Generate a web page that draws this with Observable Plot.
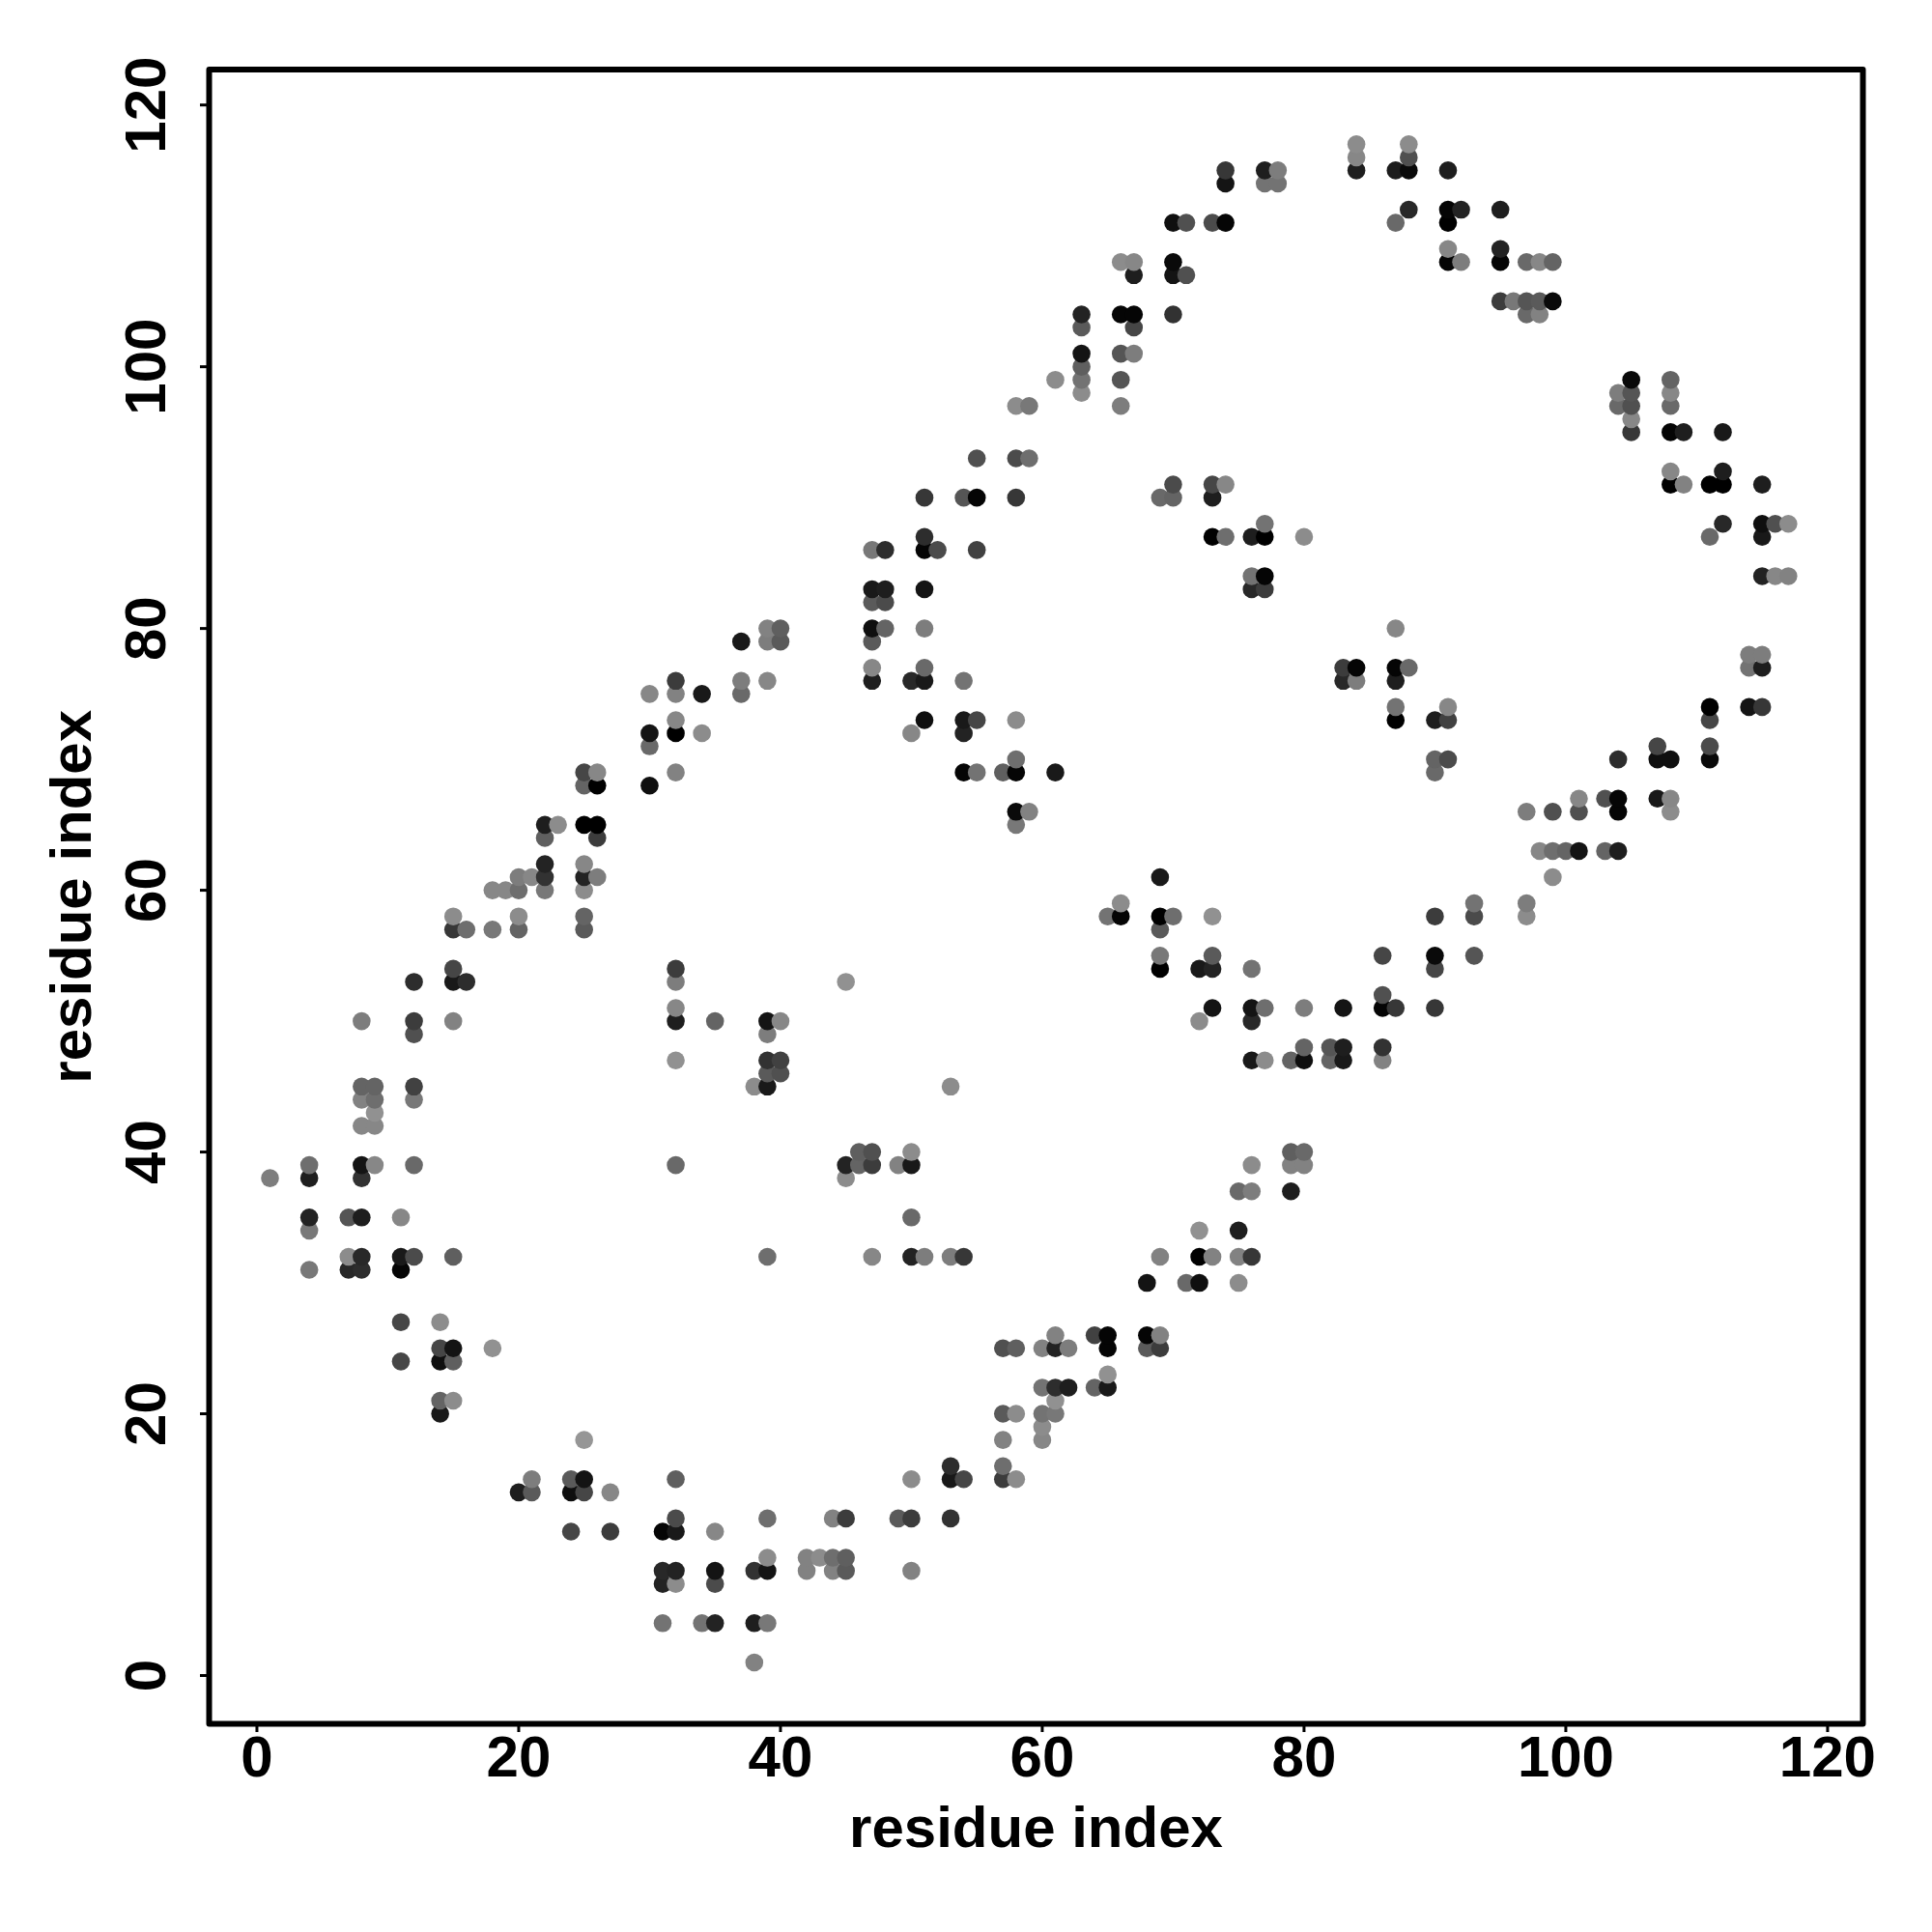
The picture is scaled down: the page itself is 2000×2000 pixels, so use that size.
<!DOCTYPE html>
<html>
<head>
<meta charset="utf-8">
<style>html,body{margin:0;padding:0;background:#fff}</style>
<script src="https://cdn.jsdelivr.net/npm/d3@7"></script>
<script src="https://cdn.jsdelivr.net/npm/@observablehq/plot@0.6"></script>
</head>
<body>
<div id="chart"></div>
<script>
const axisTicks = [0, 20, 40, 60, 80, 100, 120];
const axisTitle = "residue index";

const contactY = [
117,117,
116,116,
115,115,115,115,115,115,115,
114,114,114,
112,112,112,112,
111,111,111,111,111,111,
109,109,
108,108,108,108,108,108,108,108,108,
107,107,107,
105,105,105,105,105,
104,104,104,104,104,104,
103,103,
101,101,101,
100,
99,99,99,99,99,
98,98,98,98,
97,97,97,97,97,97,
96,
95,95,95,95,
93,93,93,
92,92,
91,91,91,91,91,91,91,91,
90,90,90,90,90,90,90,
88,88,88,88,88,
87,87,87,87,87,87,87,87,
86,86,86,86,86,
84,84,84,84,84,
83,83,83,83,83,
82,82,
80,80,80,80,80,80,
79,79,79,79,
78,78,
77,77,77,77,77,77,77,77,
76,76,76,76,76,76,76,76,76,76,
75,75,75,75,
74,74,74,74,74,
73,73,73,73,73,73,73,73,73,
72,72,72,72,72,
71,71,71,
70,70,70,70,70,70,70,
69,69,69,69,69,69,69,69,69,
68,68,68,
67,67,67,67,67,
66,66,66,66,66,66,66,
65,65,65,65,65,
64,64,
63,63,63,63,63,63,
62,62,
61,61,61,61,61,61,61,
60,60,60,60,60,
59,59,59,
58,58,58,58,58,58,58,58,58,58,58,
57,57,57,57,57,57,
55,55,55,55,55,
54,54,54,54,54,54,54,
53,53,53,53,53,
52,
51,51,51,51,51,51,51,51,51,
50,50,50,50,50,50,50,50,50,
49,49,
48,48,48,48,
47,47,47,47,47,47,47,47,47,47,
46,46,
45,45,45,45,45,45,
44,44,44,
43,
42,42,
40,40,40,40,40,
39,39,39,39,39,39,39,39,39,39,39,39,39,
38,38,38,38,
37,37,37,
35,35,35,35,35,
34,34,34,
32,32,32,32,32,32,32,32,32,32,32,32,32,32,32,32,
31,31,31,31,
30,30,30,30,
27,27,
26,26,26,26,26,
25,25,25,25,25,25,25,25,25,25,25,
24,24,24,
23,
22,22,22,22,22,
21,21,21,
20,20,20,20,20,
19,
18,18,18,
16,16,
15,15,15,15,15,15,15,15,15,
14,14,14,14,14,
12,12,12,12,12,12,12,
11,11,11,11,11,
9,9,9,9,9,
8,8,8,8,8,8,8,8,8,
7,7,7,
4,4,4,4,4,
1
];

const contactX = [
84,88,
84,88,
74,77,78,84,87,88,91,
74,77,78,
88,91,92,95,
70,71,73,74,87,91,
91,95,
66,67,70,91,92,95,97,98,99,
67,70,71,
95,96,97,98,99,
63,66,67,70,97,98,
63,67,
63,66,67,
63,
61,63,66,105,108,
63,104,105,108,
58,59,66,104,105,108,
105,
105,108,109,112,
55,58,59,
108,112,
70,73,74,108,109,111,112,115,
51,54,55,58,69,70,73,
77,112,115,116,117,
51,73,74,76,77,80,111,115,
47,48,51,52,55,
76,77,115,116,117,
47,48,51,76,77,
47,48,
39,40,47,48,51,87,
37,39,40,47,
114,115,
47,51,83,84,87,88,114,115,
32,37,39,47,50,51,54,83,84,87,
30,32,34,37,
87,91,111,114,115,
32,51,54,55,58,87,90,91,111,
30,32,34,50,54,
30,107,111,
58,90,91,104,107,108,111,
25,26,32,54,55,57,58,61,90,
25,26,30,
101,103,104,107,108,
58,59,97,99,101,104,108,
22,23,25,26,58,
22,26,
98,99,100,101,103,104,
22,25,
20,21,22,25,26,69,99,
18,19,20,22,25,
66,93,97,
15,20,25,65,66,69,70,73,90,93,97,
15,16,18,20,25,69,
69,73,86,90,93,
15,32,69,72,73,76,90,
12,15,16,32,45,
86,
32,73,76,77,80,83,86,87,90,
8,12,15,32,35,39,40,72,76,
12,39,
80,82,83,86,
32,39,40,76,77,79,80,82,83,86,
39,40,
8,9,12,38,39,53,
8,9,12,
9,
8,9,
46,47,50,79,80,
4,8,9,12,32,45,46,47,49,50,76,79,80,
1,4,8,45,
75,76,79,
4,7,8,11,50,
4,72,75,
7,8,11,12,15,39,47,50,51,53,54,69,72,73,75,76,
4,7,8,11,
68,71,72,75,
11,14,
61,64,65,68,69,
14,15,18,57,58,60,61,62,65,68,69,
11,14,15,
65,
60,61,62,64,65,
14,15,61,
14,57,58,60,61,
60,
25,57,60,
53,57,
21,24,25,32,50,53,54,57,58,
20,21,24,25,27,
32,39,44,45,49,50,53,
24,27,31,32,35,
39,42,43,44,45,
31,32,35,38,39,42,44,45,50,
31,32,35,
31,34,35,38,39,
38
];

const contactShade = [
140,140,
135,80,
55,30,125,30,28,10,30,
20,115,115,
40,5,35,30,
15,80,75,5,105,0,
135,35,
140,135,10,5,125,5,105,135,100,
30,20,80,
60,120,85,90,10,
35,5,5,50,105,130,
90,70,
20,85,125,
95,
140,115,85,10,100,
140,125,85,135,
140,120,125,105,80,105,
135,
55,5,30,25,
80,75,110,
135,30,
75,70,135,0,130,0,0,30,
55,85,5,55,105,100,30,
115,40,15,80,140,
45,0,110,30,0,140,105,25,
120,45,5,75,65,
115,5,35,135,130,
25,30,20,40,60,
90,75,
130,95,15,100,125,135,
25,125,90,90,
125,125,
135,105,60,5,5,105,115,30,
60,125,135,30,40,25,115,40,125,30,
135,130,25,105,
115,135,0,20,55,
135,15,25,70,140,0,30,65,70,
20,0,140,135,35,
105,70,75,
110,100,75,45,15,15,10,
70,135,130,5,115,95,5,25,105,
100,0,15,
135,80,5,25,135,
10,130,125,80,80,5,140,
30,140,0,0,120,
95,60,
135,110,100,20,100,30,
35,135,
125,135,50,35,125,25,140,
135,135,110,120,140,
140,115,125,
140,140,100,115,5,0,110,145,60,75,140,
55,110,120,100,90,90,
120,90,70,10,85,
70,60,0,25,35,115,70,
45,25,45,125,145,
80,
135,20,20,110,125,20,5,55,55,
125,60,130,30,100,20,135,140,40,
80,125,
100,85,30,50,
145,50,65,25,140,100,15,100,25,130,
90,80,
100,100,65,140,25,140,
130,110,120,
145,
135,135,
95,80,140,95,105,
110,20,135,105,105,35,100,60,130,25,140,130,130,
125,30,50,140,
105,125,30,
35,85,30,135,105,
120,145,30,
140,40,25,75,95,110,135,35,125,125,55,130,0,130,130,55,
120,40,45,5,
20,105,15,140,
70,140,
130,65,5,5,130,
70,20,145,80,95,130,35,125,5,90,60,
70,15,95,
145,
115,45,30,100,25,
100,140,145,
25,90,140,115,120,
140,
150,130,135,
45,110,
125,90,20,95,140,25,70,60,140,
30,90,15,70,135,
75,110,130,60,90,60,50,
70,60,5,25,135,
140,130,140,110,95,
40,35,20,50,20,130,130,90,130,
35,140,75,
115,115,35,30,120,
130
];

if (contactX.length !== contactY.length || contactX.length !== contactShade.length) {
  console.error("length mismatch", contactX.length, contactY.length, contactShade.length);
}

const contacts = d3.sort(
  contactX.map((x, i) => ({x, y: contactY[i], fill: `rgb(${contactShade[i]},${contactShade[i]},${contactShade[i]})`})),
  d => d.y, d => d.x
);

const chart = Plot.plot({
  width: 2000,
  height: 2000,
  marginLeft: 216,
  marginRight: 72,
  marginTop: 71.6,
  marginBottom: 216,
  style: {fontFamily: "'Liberation Sans', Arial, sans-serif", background: "#fff", color: "#000"},
  x: {domain: [-3.65, 122.7]},
  y: {domain: [-3.69, 122.7]},
  marks: [
    Plot.dot(contacts, {x: "x", y: "y", fill: "fill", r: 9.3}),
    Plot.frame({stroke: "#000", strokeWidth: 6, strokeLinejoin: "round"}),
    Plot.axisX(axisTicks, {
      anchor: "bottom", tickSize: 9, tickPadding: 3, strokeWidth: 3, stroke: "#000",
      fontSize: 60, fontWeight: "bold", fill: "#000",
      label: axisTitle, labelAnchor: "center", labelArrow: "none", labelOffset: 127
    }),
    Plot.axisY(axisTicks, {
      anchor: "left", tickSize: 9, tickPadding: 37, tickRotate: -90, strokeWidth: 3, stroke: "#000",
      fontSize: 60, fontWeight: "bold", fill: "#000",
      label: axisTitle, labelAnchor: "center", labelArrow: "none", labelOffset: 165
    })
  ]
});
document.getElementById("chart").appendChild(chart);
</script>
</body>
</html>
